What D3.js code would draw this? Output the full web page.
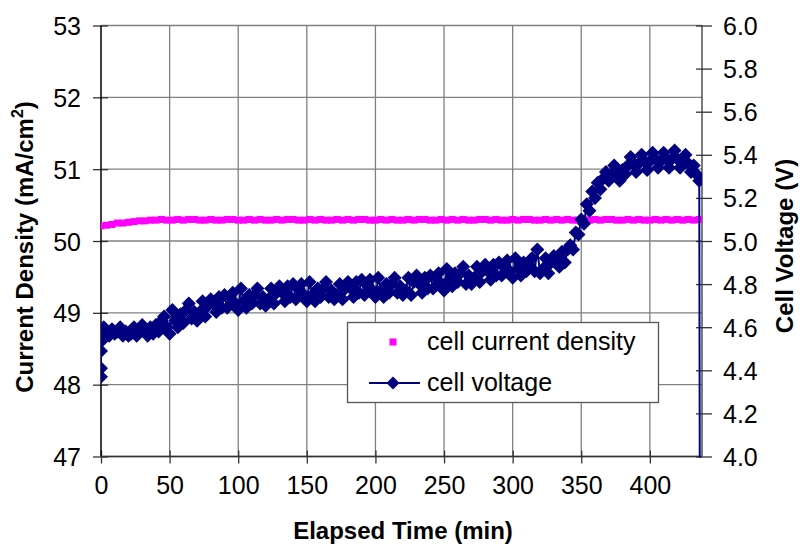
<!DOCTYPE html>
<html>
<head>
<meta charset="utf-8">
<script src="https://cdn.jsdelivr.net/npm/d3@7"></script>
<style>
	body { margin: 0; background: #fff; }
	svg { display: block; font-family: "Liberation Sans", Arial, sans-serif; }
</style>
</head>
<body>
<svg width="800" height="544"></svg>
<script>
// x axis ticks (min)
const xTicks = [0, 50, 100, 150, 200, 250, 300, 350, 400];
const leftTicks = [47, 48, 49, 50, 51, 52, 53];
const rightTicks = [4.0, 4.2, 4.4, 4.6, 4.8, 5.0, 5.2, 5.4, 5.6, 5.8, 6.0];

// cell current density, one reading every 4 min from 0
const densityTime = d3.range(0, 437, 4);
const densityValues = [
	50.21, 50.22, 50.23, 50.25, 50.25, 50.26, 50.27, 50.28, 50.28, 50.29,
	50.29, 50.30, 50.29, 50.29, 50.30, 50.29, 50.30, 50.30, 50.29, 50.29,
	50.30, 50.29, 50.29, 50.30, 50.30, 50.29, 50.29, 50.30, 50.29, 50.30,
	50.29, 50.29, 50.30, 50.29, 50.30, 50.30, 50.29, 50.29, 50.30, 50.29,
	50.30, 50.29, 50.29, 50.30, 50.29, 50.30, 50.29, 50.30, 50.30, 50.29,
	50.29, 50.30, 50.29, 50.30, 50.29, 50.29, 50.30, 50.29, 50.30, 50.30,
	50.29, 50.29, 50.30, 50.29, 50.30, 50.29, 50.30, 50.29, 50.29, 50.30,
	50.30, 50.29, 50.30, 50.29, 50.29, 50.30, 50.29, 50.30, 50.30, 50.29,
	50.29, 50.30, 50.29, 50.30, 50.29, 50.30, 50.29, 50.29, 50.30, 50.29,
	50.30, 50.29, 50.30, 50.30, 50.29, 50.29, 50.30, 50.29, 50.30, 50.29,
	50.29, 50.30, 50.29, 50.30, 50.29, 50.30, 50.29, 50.30, 50.29, 50.30
];

// cell voltage: first readings, then one every 2 min from 2 to 436, then the cut-off
const voltStartTime = [0, 0, 0, 1];
const voltStartValues = [4.37, 4.41, 4.49, 4.54];
const voltTime = d3.range(2, 437, 2);
const voltValues = [
	4.60, 4.57, 4.56, 4.59, 4.57, 4.58, 4.60, 4.56, 4.58, 4.56,
	4.57, 4.60, 4.56, 4.59, 4.61, 4.58, 4.56, 4.60, 4.57, 4.61,
	4.58, 4.63, 4.65, 4.60, 4.57, 4.68, 4.63, 4.60, 4.66, 4.62,
	4.68, 4.71, 4.64, 4.67, 4.63, 4.67, 4.72, 4.65, 4.70, 4.73,
	4.71, 4.67, 4.74, 4.69, 4.75, 4.69, 4.74, 4.76, 4.71, 4.68,
	4.78, 4.72, 4.69, 4.75, 4.71, 4.75, 4.78, 4.71, 4.74, 4.70,
	4.73, 4.78, 4.71, 4.76, 4.79, 4.76, 4.72, 4.79, 4.74, 4.80,
	4.73, 4.78, 4.80, 4.75, 4.72, 4.81, 4.75, 4.72, 4.78, 4.74,
	4.78, 4.81, 4.74, 4.77, 4.73, 4.75, 4.80, 4.73, 4.78, 4.81,
	4.78, 4.74, 4.81, 4.76, 4.82, 4.75, 4.80, 4.82, 4.77, 4.74,
	4.83, 4.77, 4.74, 4.80, 4.76, 4.80, 4.83, 4.76, 4.79, 4.75,
	4.77, 4.83, 4.75, 4.81, 4.84, 4.80, 4.76, 4.83, 4.78, 4.84,
	4.78, 4.83, 4.85, 4.80, 4.77, 4.87, 4.82, 4.79, 4.85, 4.81,
	4.85, 4.88, 4.80, 4.84, 4.80, 4.83, 4.88, 4.81, 4.86, 4.89,
	4.86, 4.82, 4.89, 4.84, 4.90, 4.84, 4.89, 4.91, 4.86, 4.83,
	4.92, 4.87, 4.84, 4.90, 4.86, 4.89, 4.92, 4.86, 4.96, 4.85,
	4.87, 4.92, 4.85, 4.90, 4.93, 4.92, 4.88, 4.95, 4.90, 4.96,
	4.98, 4.96, 5.04, 5.03, 5.10, 5.08, 5.17, 5.14, 5.23, 5.20,
	5.27, 5.24, 5.29, 5.32, 5.28, 5.31, 5.35, 5.31, 5.28, 5.33,
	5.31, 5.35, 5.39, 5.36, 5.32, 5.36, 5.40, 5.37, 5.33, 5.37,
	5.41, 5.38, 5.34, 5.37, 5.41, 5.38, 5.34, 5.38, 5.42, 5.38,
	5.34, 5.37, 5.40, 5.36, 5.32, 5.35, 5.31, 5.28
];
const voltEndTime = [437.5];
const voltEndValues = [0];

const svg = d3.select('svg');
const plotL = 101, plotR = 702, plotT = 25.5, plotB = 456.5;

const x = d3.scaleLinear().domain([0, 438]).range([plotL, plotR]);
const yL = d3.scaleLinear().domain([47, 53]).range([plotB, plotT]);
const yR = d3.scaleLinear().domain([4, 6]).range([plotB, plotT]);

const density = densityTime.map((t, i) => ({t: t, v: densityValues[i]}));
const voltage = voltStartTime.map((t, i) => ({t: t, v: voltStartValues[i]}))
	.concat(voltTime.map((t, i) => ({t: t, v: voltValues[i]})))
	.concat(voltEndTime.map((t, i) => ({t: t, v: voltEndValues[i]})));

svg.append('clipPath').attr('id', 'plot')
	.append('rect')
		.attr('x', plotL).attr('y', plotT)
		.attr('width', plotR - plotL).attr('height', plotB - plotT + 1);

// gridlines
svg.append('g')
	.selectAll('line')
	.data(leftTicks)
	.join('line')
		.attr('x1', plotL).attr('x2', plotR)
		.attr('y1', d => yL(d)).attr('y2', d => yL(d))
		.attr('stroke', '#808080').attr('stroke-width', 1.3);

svg.append('g')
	.selectAll('line')
	.data(xTicks.slice(1))
	.join('line')
		.attr('x1', d => x(d)).attr('x2', d => x(d))
		.attr('y1', plotT).attr('y2', plotB)
		.attr('stroke', '#808080').attr('stroke-width', 1.3);

// axes
const fmt1 = d3.format('.1f');

const gLeft = svg.append('g').attr('transform', `translate(${plotL},0)`)
	.call(d3.axisLeft(yL).tickValues(leftTicks).tickSize(8).tickPadding(12).tickFormat(d3.format('d')));
gLeft.selectAll('.tick line').attr('x2', 7).attr('x1', -8);

const gRight = svg.append('g').attr('transform', `translate(${plotR},0)`)
	.call(d3.axisRight(yR).tickValues(rightTicks).tickSize(10).tickPadding(11).tickFormat(fmt1));
gRight.selectAll('.tick line').attr('x1', -6);

const gBottom = svg.append('g').attr('transform', `translate(0,${plotB})`)
	.call(d3.axisBottom(x).tickValues(xTicks).tickSize(7).tickPadding(13).tickFormat(d3.format('d')));
gBottom.selectAll('.tick line').attr('y1', -6);

[gLeft, gRight, gBottom].forEach(g => {
	g.select('.domain').remove();
	g.selectAll('.tick line').attr('stroke', '#333').attr('stroke-width', 1.3);
	g.selectAll('.tick text').attr('font-size', 25).attr('fill', '#000')
		.attr('font-family', '"Liberation Sans", Arial, sans-serif');
});
gLeft.selectAll('.tick text').attr('dy', '0.36em');
gRight.selectAll('.tick text').attr('dy', '0.36em');

svg.append('line')
	.attr('x1', plotL).attr('x2', plotL).attr('y1', plotT).attr('y2', plotB)
	.attr('stroke', '#000').attr('stroke-width', 1.5);
svg.append('line')
	.attr('x1', plotL).attr('x2', plotR).attr('y1', plotB).attr('y2', plotB)
	.attr('stroke', '#333').attr('stroke-width', 1.3);
svg.append('line')
	.attr('x1', plotR).attr('x2', plotR).attr('y1', plotT).attr('y2', plotB)
	.attr('stroke', '#333').attr('stroke-width', 1.3);

// series
const plot = svg.append('g').attr('clip-path', 'url(#plot)');

const sq = 7;
plot.append('g')
	.selectAll('rect')
	.data(density)
	.join('rect')
		.attr('x', d => x(d.t) - sq / 2)
		.attr('y', d => yL(d.v) - sq / 2)
		.attr('width', sq).attr('height', sq)
		.attr('fill', '#ff00ff');

const diamond = r => `M0,${-r}L${r},0L0,${r}L${-r},0Z`;

plot.append('path')
	.datum(voltage)
	.attr('d', d3.line().x(d => x(d.t)).y(d => yR(d.v)))
	.attr('fill', 'none')
	.attr('stroke', '#000080')
	.attr('stroke-width', 2);

plot.append('g')
	.selectAll('path')
	.data(voltage.filter(d => d.v > 0))
	.join('path')
		.attr('transform', d => `translate(${x(d.t)},${yR(d.v)})`)
		.attr('d', diamond(7))
		.attr('fill', '#000080');

// legend
const lg = svg.append('g');
lg.append('rect')
	.attr('x', 347.5).attr('y', 322.5).attr('width', 311).attr('height', 80)
	.attr('fill', '#fff').attr('stroke', '#555').attr('stroke-width', 1.3);
lg.append('rect')
	.attr('x', 393 - 3.5).attr('y', 342 - 3.5).attr('width', 7).attr('height', 7)
	.attr('fill', '#ff00ff');
lg.append('line')
	.attr('x1', 369).attr('x2', 420).attr('y1', 383).attr('y2', 383)
	.attr('stroke', '#000080').attr('stroke-width', 2);
lg.append('path')
	.attr('transform', 'translate(393,383)')
	.attr('d', diamond(6.5))
	.attr('fill', '#000080');
lg.selectAll('text')
	.data(['cell current density', 'cell voltage'])
	.join('text')
		.attr('x', 427)
		.attr('y', (d, i) => i == 0 ? 350 : 391)
		.attr('font-size', 25)
		.text(d => d);

// axis titles
svg.append('text')
	.attr('x', 403).attr('y', 539)
	.attr('text-anchor', 'middle')
	.attr('font-size', 24).attr('font-weight', 'bold')
	.text('Elapsed Time (min)');

const lt = svg.append('text')
	.attr('transform', 'translate(33,247) rotate(-90)')
	.attr('text-anchor', 'middle')
	.attr('font-size', 24).attr('font-weight', 'bold');
lt.append('tspan').text('Current Density (mA/cm');
lt.append('tspan').attr('font-size', 16).attr('dy', -10).text('2');
lt.append('tspan').attr('dy', 10).text(')');

svg.append('text')
	.attr('transform', 'translate(793,246) rotate(-90)')
	.attr('text-anchor', 'middle')
	.attr('font-size', 24).attr('font-weight', 'bold')
	.text('Cell Voltage (V)');
</script>
</body>
</html>
